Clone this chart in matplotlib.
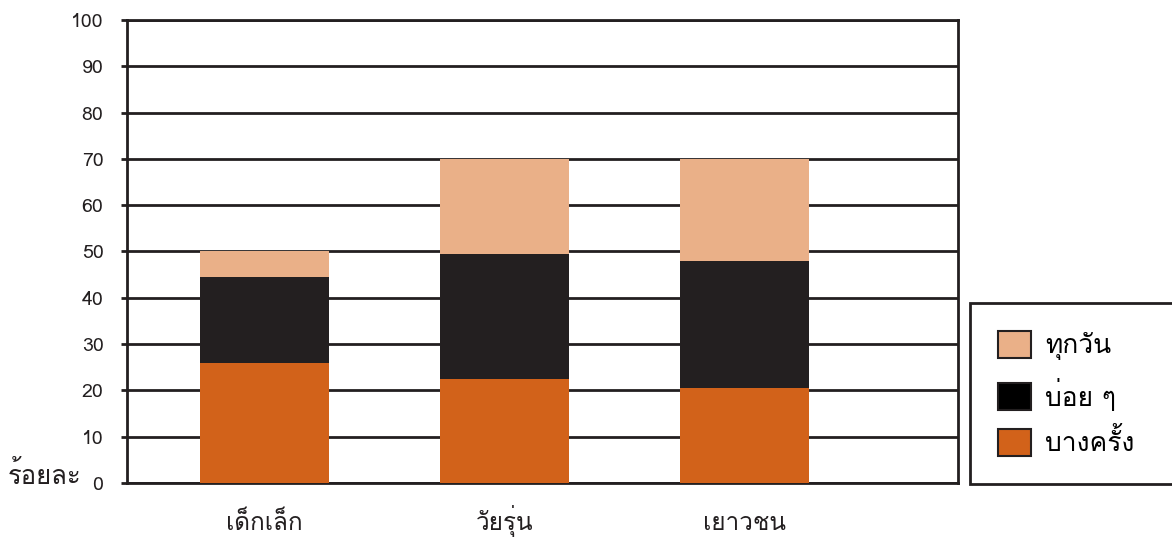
import matplotlib
matplotlib.use("Agg")
import matplotlib.pyplot as plt
from matplotlib import font_manager
from matplotlib.ft2font import FT2Font
from matplotlib.patches import Patch
import numpy as np

# ข้อมูล
groups = ['เด็กเล็ก', 'วัยรุ่น', 'เยาวชน']
sometimes = [26, 22.5, 20.5]   # บางครั้ง
often = [18.5, 27, 27.5]       # บ่อย ๆ
daily = [5.5, 20.5, 22]        # ทุกวัน
series_names = ['ทุกวัน', 'บ่อย ๆ', 'บางครั้ง']
y_ticks = list(range(0, 101, 10))


def find_thai_font():
    """หาฟอนต์ที่มีอักษรไทย"""
    for f in font_manager.fontManager.ttflist:
        try:
            cmap = FT2Font(f.fname).get_charmap()
        except Exception:
            continue
        if ord('ก') in cmap and ord('0') in cmap:
            return f.name
    return None


thai = find_thai_font()
fams = [thai, 'DejaVu Sans'] if thai else ['DejaVu Sans']
plt.rcParams['font.family'] = fams

c_daily = '#EAB088'
c_often = '#231F20'
c_some = '#D2621A'
c_line = '#231F20'

fig = plt.figure(figsize=(11.72, 5.37), dpi=100)
ax = fig.add_axes([0.1084, 0.1006, 0.709, 0.8622])

x = np.arange(len(groups))
w = 0.54
ax.bar(x, sometimes, w, color=c_some, zorder=3)
ax.bar(x, often, w, bottom=sometimes, color=c_often, zorder=3)
ax.bar(x, daily, w, bottom=np.array(sometimes) + np.array(often), color=c_daily, zorder=3)

ax.set_xlim(-0.573, 2.89)
ax.set_ylim(0, 100)
ax.set_yticks(y_ticks)
ax.set_yticklabels([str(v) for v in y_ticks], fontsize=14, color=c_line)
ax.set_xticks(x)
ax.set_xticklabels(groups, fontsize=17.5, color=c_line)
for lbl in ax.get_xticklabels():
    lbl.set_verticalalignment('baseline')
ax.tick_params(axis='x', length=0, pad=34)
ax.tick_params(axis='y', length=4, width=2, color=c_line, pad=13)
ax.yaxis.grid(True, color=c_line, linewidth=2, zorder=1)
for s in ax.spines.values():
    s.set_linewidth(2)
    s.set_color(c_line)

fig.text(0.007, 0.115, 'ร้อยละ', fontsize=18.5, color=c_line, va='center', ha='left')

handles = [Patch(facecolor=c_daily, edgecolor=c_line, linewidth=1.5),
           Patch(facecolor='#000000', edgecolor=c_line, linewidth=1.5),
           Patch(facecolor=c_some, edgecolor=c_line, linewidth=1.5)]
leg = fig.legend(handles, series_names, loc='upper left',
                 bbox_to_anchor=(0.8276, 0.0987, 0.25, 0.337), mode='expand',
                 borderaxespad=0, fontsize=19, frameon=True, fancybox=False,
                 framealpha=1, handlelength=1.25, handleheight=1.2,
                 labelspacing=0.66, borderpad=1.06, handletextpad=0.55)
leg.get_frame().set_edgecolor(c_line)
leg.get_frame().set_linewidth(2)

fig.savefig('out.png', dpi=100)
